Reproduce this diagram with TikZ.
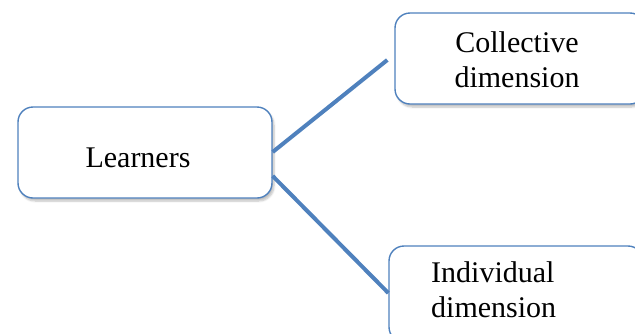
\documentclass[tikz,border=0pt]{standalone}
\usepackage{fontspec}
\setmainfont{Liberation Serif}
\usetikzlibrary{shadows.blur}
\definecolor{boxblue}{HTML}{4F81BD}
\tikzset{
  rbox/.style={draw=boxblue, line width=1.4pt, fill=white, rounded corners=15pt,
    blur shadow={shadow xshift=2pt, shadow yshift=-3pt, shadow blur steps=6, shadow opacity=25},
    inner sep=0pt},
  link/.style={draw=boxblue, line width=4pt},
  lbl/.style={font=\fontsize{30}{35}\selectfont, align=center, inner sep=0pt}
}
\begin{document}
\begin{tikzpicture}[x=1pt,y=-1pt]
\useasboundingbox (0,0) rectangle (635,333);
\clip (0,0) rectangle (635,333);
\node[rbox, minimum width=254pt, minimum height=91pt] (L) at (145,152.5) {};
\node[rbox, minimum width=250pt, minimum height=91pt] (C) at (520,58.5) {};
\node[rbox, minimum width=254pt, minimum height=96pt] (I) at (516,294) {};
\node[lbl] (Lt) at (138,158) {Learners};
\node[lbl] (Ct) at (517,60) {Collective\\dimension};
\node[lbl, align=left, anchor=west] (It) at (431,290) {Individual\\dimension};
\draw[link] ([yshift=0.5pt]L.east) -- ([xshift=-7pt,yshift=-1.5pt]C.west);
\draw[link] ([yshift=-23.5pt]L.east) -- ([yshift=1pt]I.west);
\end{tikzpicture}
\end{document}
